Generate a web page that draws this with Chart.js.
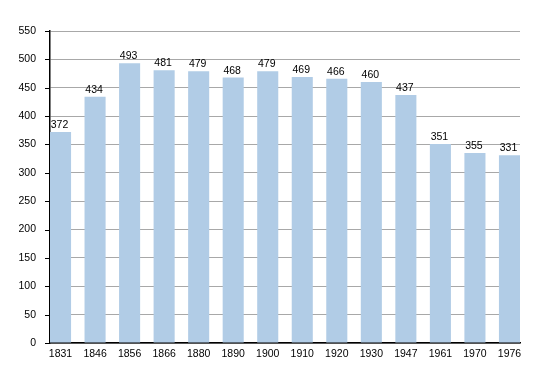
<!DOCTYPE html>
<html>
<head>
<meta charset="utf-8">
<script src="https://cdn.jsdelivr.net/npm/chart.js@4.4.0/dist/chart.umd.min.js"></script>
<style>
html,body{margin:0;padding:0;background:#fff;}
#wrap{width:550px;height:373px;position:relative;}
</style>
</head>
<body>
<div id="wrap"><canvas id="c" width="550" height="373"></canvas></div>
<script>
// Data
const years = ['1831','1846','1856','1866','1880','1890','1900','1910','1920','1930','1947','1961','1970','1976'];
const population = [372,434,493,481,479,468,479,469,466,460,437,351,335,331];
const valueLabels = ['372','434','493','481','479','468','479','469','466','460','437','351','355','331'];

const FONT = 'Liberation Sans, Arial, sans-serif';

const labelPlugin = {
  id: 'labels',
  afterDatasetsDraw(chart) {
    const ctx = chart.ctx;
    const meta = chart.getDatasetMeta(0);
    ctx.save();
    ctx.font = '10.5px ' + FONT;
    ctx.fillStyle = '#000';
    ctx.textAlign = 'center';
    ctx.textBaseline = 'alphabetic';
    meta.data.forEach((bar, i) => {
      ctx.fillText(valueLabels[i], bar.x - 1, bar.y - 4);
    });
    ctx.restore();
  },
  afterDraw(chart) {
    const ctx = chart.ctx;
    const y = chart.scales.y;
    const area = chart.chartArea;
    ctx.save();
    ctx.strokeStyle = '#000';
    ctx.lineWidth = 1;
    y.ticks.forEach(t => {
      const py = Math.round(y.getPixelForValue(t.value)) + 0.5;
      const major = t.value % 50 === 0;
      const len = major ? 5 : 3;
      ctx.beginPath();
      ctx.moveTo(area.left - len, py);
      ctx.lineTo(area.left, py);
      ctx.stroke();
    });
    ctx.restore();
  }
};

new Chart(document.getElementById('c'), {
  type: 'bar',
  data: {
    datasets: [{
      data: population.map((v, i) => ({x: i, y: v})),
      backgroundColor: '#b1cce6',
      borderWidth: 0,
      barPercentage: 0.61,
      categoryPercentage: 1.0
    }]
  },
  options: {
    responsive: false,
    animation: false,
    devicePixelRatio: 1,
    layout: {padding: {top: 31, right: 30, bottom: 0, left: 0}},
    plugins: {legend: {display: false}, tooltip: {enabled: false}},
    scales: {
      x: {
        type: 'linear',
        offset: false,
        min: -0.305,
        max: 13.305,
        afterBuildTicks(scale) {
          scale.ticks = years.map((_, i) => ({value: i}));
        },
        afterFit(scale) { scale.height = 30; },
        grid: {display: false, drawTicks: false},
        border: {display: true, color: '#000', width: 1.5},
        ticks: {
          autoSkip: false,
          maxRotation: 0,
          padding: 5,
          color: '#000',
          font: {family: FONT, size: 10.5},
          callback: (v) => years[v]
        }
      },
      y: {
        min: 0,
        max: 550,
        afterBuildTicks(scale) {
          const t = [];
          for (let v = 0; v <= 550; v += 25) t.push({value: v});
          scale.ticks = t;
        },
        afterFit(scale) { scale.width = 50; },
        grid: {
          drawTicks: false,
          color: (c) => (c.tick && c.tick.value % 50 === 0) ? '#a8a8a8' : '#dcdcdc',
          lineWidth: 1
        },
        border: {display: true, color: '#000', width: 1.5},
        ticks: {
          padding: 14,
          color: '#000',
          font: {family: FONT, size: 10.5},
          callback: (v) => (v % 50 === 0 ? String(v) : '')
        }
      }
    }
  },
  plugins: [labelPlugin]
});
</script>
</body>
</html>
